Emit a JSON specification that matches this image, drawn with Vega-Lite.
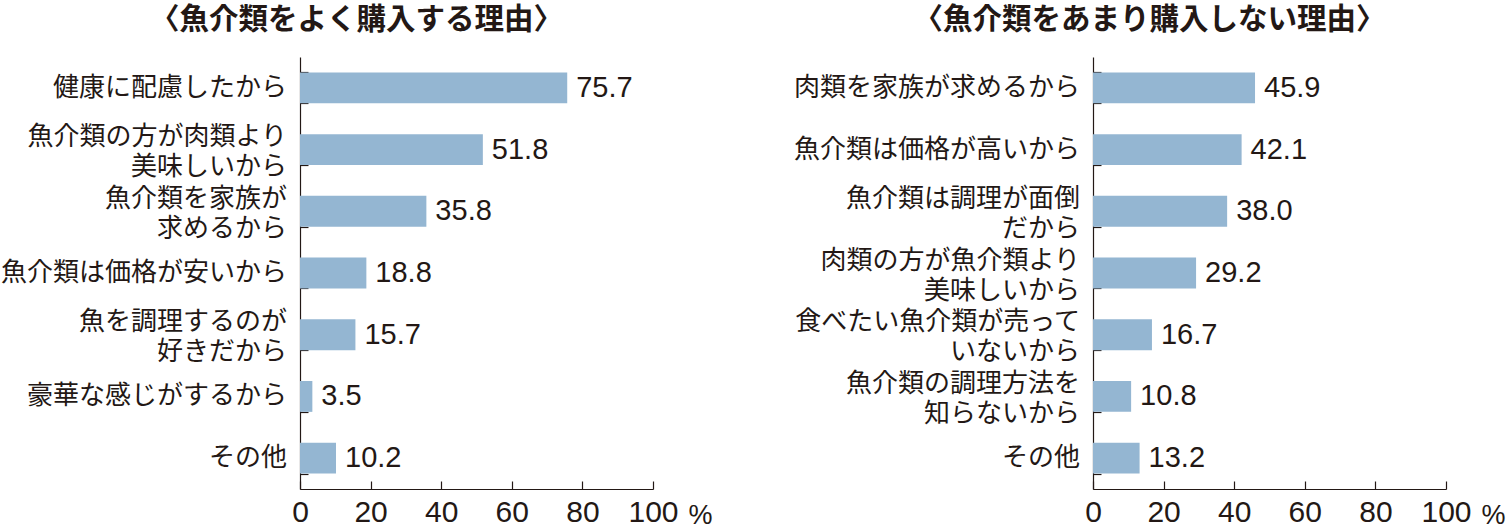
{
  "$schema": "https://vega.github.io/schema/vega-lite/v6.json",
  "padding": {"left": 0, "top": 4, "right": 0, "bottom": 0},
  "background": "white",
  "config": {
    "view": {"stroke": null},
    "font": "Noto Sans CJK JP",
    "axis": {"grid": false, "domainColor": "#231815", "tickColor": "#231815", "labelColor": "#231815", "domainWidth": 1.2, "tickWidth": 1.2},
    "title": {"font": "Noto Sans CJK JP", "fontSize": 29.5, "fontWeight": "bold", "color": "#231815", "anchor": "middle", "dx": -120, "offset": 22}
  },
  "datasets": {
    "buy": [
      {"reason": "健康に配慮したから", "pct": 75.7},
      {"reason": "魚介類の方が肉類より\n美味しいから", "pct": 51.8},
      {"reason": "魚介類を家族が\n求めるから", "pct": 35.8},
      {"reason": "魚介類は価格が安いから", "pct": 18.8},
      {"reason": "魚を調理するのが\n好きだから", "pct": 15.7},
      {"reason": "豪華な感じがするから", "pct": 3.5},
      {"reason": "その他", "pct": 10.2}
    ],
    "notbuy": [
      {"reason": "肉類を家族が求めるから", "pct": 45.9},
      {"reason": "魚介類は価格が高いから", "pct": 42.1},
      {"reason": "魚介類は調理が面倒\nだから", "pct": 38.0},
      {"reason": "肉類の方が魚介類より\n美味しいから", "pct": 29.2},
      {"reason": "食べたい魚介類が売って\nいないから", "pct": 16.7},
      {"reason": "魚介類の調理方法を\n知らないから", "pct": 10.8},
      {"reason": "その他", "pct": 13.2}
    ]
  },
  "spacing": 80,
  "hconcat": [
    {
      "title": "〈魚介類をよく購入する理由〉",
      "data": {"name": "buy"},
      "width": 353,
      "height": 432,
      "encoding": {
        "y": {
          "field": "reason", "type": "nominal", "sort": null, "title": null,
          "scale": {"paddingInner": 0.5, "paddingOuter": 0.25},
          "axis": {"labels": false, "tickBand": "extent", "tickSize": -8}
        }
      },
      "layer": [
        {"mark": {"type": "bar", "color": "#94b6d2"},
         "encoding": {"x": {
          "field": "pct", "type": "quantitative",
          "scale": {"domain": [0, 100], "nice": false},
          "axis": {"values": [0, 20, 40, 60, 80, 100], "tickSize": -8, "labelFontSize": 30, "labelFont": "Liberation Sans", "labelPadding": 16, "labelFlush": false,
                   "title": "%", "titleX": 400, "titleY": 34, "titleBaseline": "alphabetic", "titleFontSize": 27, "titleFont": "Liberation Sans", "titleFontWeight": "normal", "titleColor": "#231815"}
         }}},
        {"mark": {"type": "text", "align": "left", "baseline": "middle", "dx": 9, "fontSize": 29, "font": "Liberation Sans", "color": "#231815"},
         "encoding": {"x": {"field": "pct", "type": "quantitative"}, "text": {"field": "pct", "type": "quantitative", "format": ".1f"}}},
        {"transform": [{"filter": "indexof(datum.reason, '\\n') < 0"}],
         "mark": {"type": "text", "align": "right", "baseline": "middle", "dx": -13, "fontSize": 26, "color": "#231815"},
         "encoding": {"x": {"datum": 0, "type": "quantitative"}, "text": {"field": "reason"}}},
        {"transform": [{"filter": "indexof(datum.reason, '\\n') >= 0"}],
         "mark": {"type": "text", "align": "right", "baseline": "middle", "dx": -13, "dy": -12.5, "lineBreak": "\n", "lineHeight": 30, "fontSize": 26, "color": "#231815"},
         "encoding": {"x": {"datum": 0, "type": "quantitative"}, "text": {"field": "reason"}}}
      ]
    },
    {
      "title": "〈魚介類をあまり購入しない理由〉",
      "data": {"name": "notbuy"},
      "width": 353,
      "height": 432,
      "encoding": {
        "y": {
          "field": "reason", "type": "nominal", "sort": null, "title": null,
          "scale": {"paddingInner": 0.5, "paddingOuter": 0.25},
          "axis": {"labels": false, "tickBand": "extent", "tickSize": -8}
        }
      },
      "layer": [
        {"mark": {"type": "bar", "color": "#94b6d2"},
         "encoding": {"x": {
          "field": "pct", "type": "quantitative",
          "scale": {"domain": [0, 100], "nice": false},
          "axis": {"values": [0, 20, 40, 60, 80, 100], "tickSize": -8, "labelFontSize": 30, "labelFont": "Liberation Sans", "labelPadding": 16, "labelFlush": false,
                   "title": "%", "titleX": 400, "titleY": 34, "titleBaseline": "alphabetic", "titleFontSize": 27, "titleFont": "Liberation Sans", "titleFontWeight": "normal", "titleColor": "#231815"}
         }}},
        {"mark": {"type": "text", "align": "left", "baseline": "middle", "dx": 9, "fontSize": 29, "font": "Liberation Sans", "color": "#231815"},
         "encoding": {"x": {"field": "pct", "type": "quantitative"}, "text": {"field": "pct", "type": "quantitative", "format": ".1f"}}},
        {"transform": [{"filter": "indexof(datum.reason, '\\n') < 0"}],
         "mark": {"type": "text", "align": "right", "baseline": "middle", "dx": -13, "fontSize": 26, "color": "#231815"},
         "encoding": {"x": {"datum": 0, "type": "quantitative"}, "text": {"field": "reason"}}},
        {"transform": [{"filter": "indexof(datum.reason, '\\n') >= 0"}],
         "mark": {"type": "text", "align": "right", "baseline": "middle", "dx": -13, "dy": -12.5, "lineBreak": "\n", "lineHeight": 30, "fontSize": 26, "color": "#231815"},
         "encoding": {"x": {"datum": 0, "type": "quantitative"}, "text": {"field": "reason"}}}
      ]
    }
  ]
}
